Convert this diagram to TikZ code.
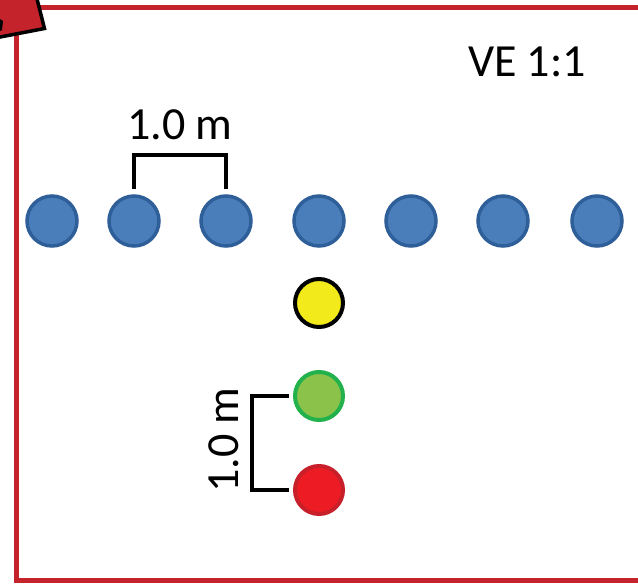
\documentclass[tikz,border=0pt]{standalone}
\usepackage{fontspec}
\setmainfont{Carlito}
\definecolor{frame}{HTML}{C4232B}
\definecolor{bluefill}{HTML}{4A7EBB}
\definecolor{blueline}{HTML}{2F5F98}
\definecolor{yel}{HTML}{F2EA1A}
\definecolor{grnfill}{HTML}{8BC34A}
\definecolor{grnline}{HTML}{22B14C}
\definecolor{redfill}{HTML}{ED1C24}
\definecolor{redline}{HTML}{C8202A}
\begin{document}
\begin{tikzpicture}[x=1pt,y=-1pt,
  blue/.style={circle,draw=blueline,fill=bluefill,line width=3.5pt,minimum size=50pt,inner sep=0pt},
  ball/.style={circle,line width=4pt,minimum size=48pt,inner sep=0pt},
  bracket/.style={line width=4.5pt,black},
  lbl/.style={font=\fontsize{46}{50}\selectfont,inner sep=0pt}]
\useasboundingbox (0,0) rectangle (638,584);
\begin{scope}
\clip (0,0) rectangle (638,584);
\draw[frame,line width=5pt] (16,7.5) rectangle (640,580);
\draw[fill=frame,draw=black,line width=3.5pt,line join=miter] (36,-5) -- (44.5,28.5) -- (-5,38) -- (-30,-30) -- cycle;
\fill[black] (0,19) -- (3,21) -- (2,30) -- (0,31) -- cycle;
\end{scope}
\foreach \i/\x in {1/52,2/134,3/226,4/319,5/411,6/503,7/597}
  \node[blue] (b\i) at (\x,221) {};
\node[ball,draw=black,fill=yel] (y) at (319,303) {};
\node[ball,draw=grnline,fill=grnfill] (g) at (319,396) {};
\node[ball,draw=redline,fill=redfill] (r) at (319,490) {};
\coordinate (t1) at (134,189);
\coordinate (t2) at (226,189);
\draw[bracket,line join=miter] (t1) -- (134,155) -- (226,155) -- (t2);
\node[lbl] (l1) at (180,125) {1.0 m};
\coordinate (s1) at (289,396);
\coordinate (s2) at (289,490);
\draw[bracket,line join=miter] (s1) -- (252,396) -- (252,490) -- (s2);
\node[lbl,rotate=90] (l2) at (224,440) {1.0 m};
\node[lbl] (ve) at (527,62) {VE 1:1};
\end{tikzpicture}
\end{document}
